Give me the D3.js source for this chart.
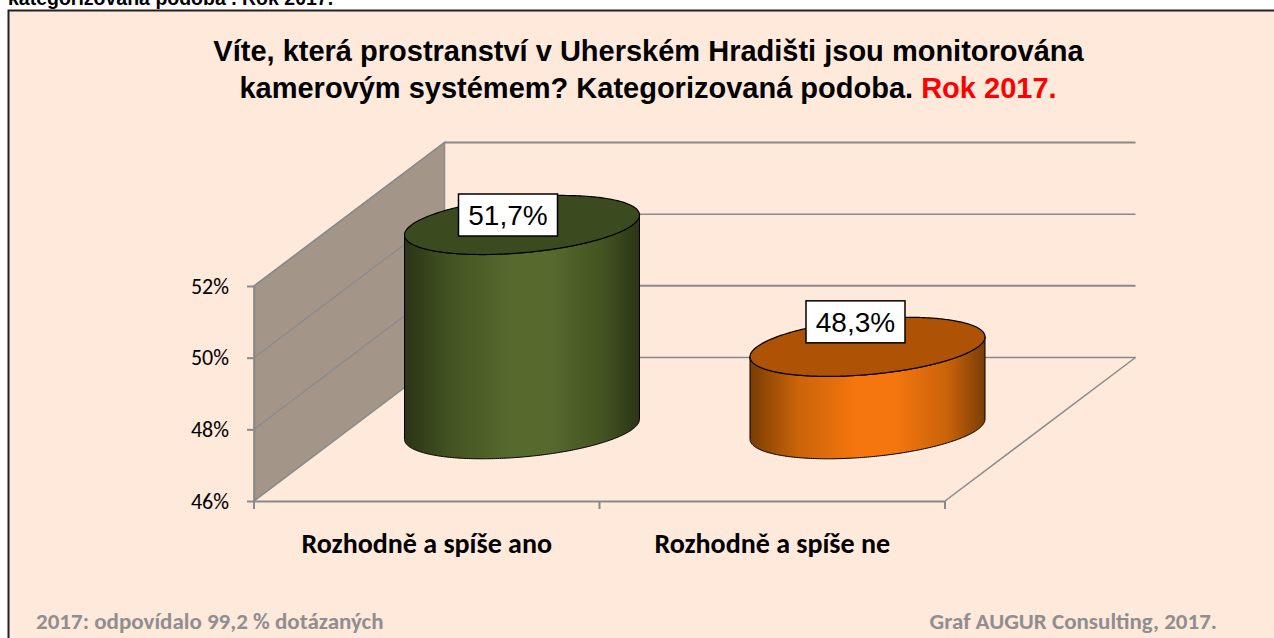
<!DOCTYPE html>
<html><head><meta charset="utf-8">
<script src="https://cdn.jsdelivr.net/npm/d3@7"></script>
<style>html,body{margin:0;padding:0;background:#fff;overflow:hidden}svg{display:block}</style>
</head><body><svg id="c" width="1274" height="638"></svg>
<script>
const categories = ["Rozhodně a spíše ano", "Rozhodně a spíše ne"];
const values = [51.7, 48.3];
const valueLabels = ["51,7%", "48,3%"];
const yTicks = [46, 48, 50, 52];
const titleLines = ["Víte, která prostranství v Uherském Hradišti jsou monitorována", "kamerovým systémem? Kategorizovaná podoba. "];
const titleHighlight = "Rok 2017.";
const clippedHeading = "kategorizovaná podoba . Rok 2017.";
const footLeft = "2017: odpovídalo 99,2 % dotázaných";
const footRight = "Graf AUGUR Consulting, 2017.";
const palettes = [
  {edge:"#2b3416", mid1:"#445421", mid:"#566a2e", top:"#3b4a1f"},
  {edge:"#7a3d05", mid1:"#c9630a", mid:"#f5750e", top:"#ae5206"}
];

const svg = d3.select("#c");
const W = 1274, H = 638;
const ARIAL = "'Liberation Sans',Arial,sans-serif", CAL = "Carlito,Lato,sans-serif";
const GRID = "#8a8a8a";
const depthX = 190.5, depthY = 143.5;
const y = d3.scaleLinear().domain([46,52]).range([501,286]);
const x = d3.scaleBand().domain(categories).range([254,945]);

// panel
svg.append("rect").attr("x",8.5).attr("y",10.5).attr("width",W+10).attr("height",H+10)
  .attr("fill","#fee9db").attr("stroke","#222").attr("stroke-width",2);
svg.append("text").text(clippedHeading).attr("x",8).attr("y",5)
  .attr("font-family",ARIAL).attr("font-weight","bold").attr("font-size",19.5).attr("fill","#000");

// title
const title = svg.append("g").attr("font-family",ARIAL).attr("font-weight","bold").attr("font-size",29).attr("text-anchor","middle");
title.append("text").attr("x",648.5).attr("y",61).text(titleLines[0]);
const t2 = title.append("text").attr("x",648).attr("y",98).text(titleLines[1]);
t2.append("tspan").attr("fill","#ff0000").text(titleHighlight);

// wall & floor & grid
svg.append("path").attr("fill","#a39689").attr("stroke",GRID).attr("stroke-width",1.5)
  .attr("d",d3.line()([[x.range()[0],y(52)],[x.range()[0]+depthX,y(52)-depthY],[x.range()[0]+depthX,y(46)-depthY],[x.range()[0],y(46)]])+"Z");
const grid = svg.append("g").attr("stroke",GRID).attr("fill","none");
yTicks.forEach(t=>{
  const x0=x.range()[0], x1=x.range()[1], yy=y(t);
  grid.append("line").attr("x1",x0+depthX).attr("x2",x1+depthX).attr("y1",yy-depthY).attr("y2",yy-depthY).attr("stroke-width",t%4===0?2:1.5);
  if(t>46) grid.append("line").attr("x1",x0).attr("x2",x0+depthX).attr("y1",yy).attr("y2",yy-depthY).attr("stroke-width",1.2);
});
grid.append("line").attr("x1",x.range()[1]).attr("y1",y(46)).attr("x2",x.range()[1]+depthX).attr("y2",y(46)-depthY).attr("stroke-width",1.5);

// axes
const yAxis = svg.append("g").attr("transform",`translate(${x.range()[0]},0)`)
  .call(d3.axisLeft(y).tickValues(yTicks).tickSize(7).tickSizeOuter(0).tickPadding(18).tickFormat(d=>d+"%"));
const xAxis = svg.append("g").attr("transform",`translate(0,${y(46)})`)
  .call(d3.axisBottom(x).tickSize(0).tickPadding(27));
[yAxis,xAxis].forEach(a=>{a.selectAll("path.domain").attr("stroke",GRID).attr("stroke-width",2);a.selectAll(".tick line").attr("stroke",GRID).attr("stroke-width",2);});
yAxis.selectAll("text").attr("font-family",CAL).attr("font-size",22).attr("fill","#000");
xAxis.selectAll("text").attr("font-family",CAL).attr("font-weight","bold").attr("font-size",28).attr("fill","#000");
xAxis.selectAll("text").attr("dy","0.9em");
svg.append("g").selectAll("line").data([x.range()[0],x.range()[0]+x.step(),x.range()[1]]).join("line")
  .attr("x1",d=>d).attr("x2",d=>d).attr("y1",y(46)).attr("y2",y(46)+8).attr("stroke",GRID).attr("stroke-width",2);

// cylinders
const RX = 117.5, TILT = 10, RY = 27.8;
const ell = (cx,cy,t)=>[cx+RX*Math.cos(t), cy-TILT*Math.cos(t)+RY*Math.sin(t)];
const line = d3.line();
const defs = svg.append("defs");
palettes.forEach((p,i)=>{
  const g = defs.append("linearGradient").attr("id","g"+i);
  [[0,p.edge],[.2,p.mid1],[.45,p.mid],[.62,p.mid],[.84,p.mid1],[1,p.edge]].forEach(s=>g.append("stop").attr("offset",s[0]).attr("stop-color",s[1]));
});
categories.forEach((c,i)=>{
  const cx = x(c)+x.bandwidth()/2+depthX/2;
  const yb = y(46)-depthY/2, yt = y(values[i])-depthY/2;
  const ts = d3.range(0,181).map(a=>a*Math.PI/180);
  const lowerBase = ts.map(t=>ell(cx,yb,t));
  const lowerTop = ts.slice().reverse().map(t=>ell(cx,yt,t));
  svg.append("path").attr("d",line(lowerBase.concat(lowerTop))+"Z").attr("fill",`url(#g${i})`).attr("stroke","#000").attr("stroke-width",1);
  const all = d3.range(0,360).map(a=>ell(cx,yt,a*Math.PI/180));
  svg.append("path").attr("d",line(all)+"Z").attr("fill",palettes[i].top).attr("stroke","#000").attr("stroke-width",1.2);
});

// value labels
const labelDX=[-14,-12], labelDY=[-10,-25];
categories.forEach((c,i)=>{
  const cx = x(c)+x.bandwidth()/2+depthX/2+labelDX[i], cy = y(values[i])-depthY/2+labelDY[i];
  svg.append("rect").attr("x",cx-49.5).attr("y",cy-21).attr("width",99).attr("height",42).attr("fill","#fff").attr("stroke","#000").attr("stroke-width",1.5);
  svg.append("text").attr("x",cx).attr("y",cy+10).attr("text-anchor","middle").attr("font-family",ARIAL).attr("font-size",28).attr("fill","#000").text(valueLabels[i]);
});

// footers
const foot = svg.append("g").attr("font-family",CAL).attr("font-weight","bold").attr("font-size",23).attr("fill","#8f8f8f");
foot.append("text").attr("x",36).attr("y",629).text(footLeft);
foot.append("text").attr("x",1217).attr("y",629).attr("text-anchor","end").text(footRight);
</script></body></html>
